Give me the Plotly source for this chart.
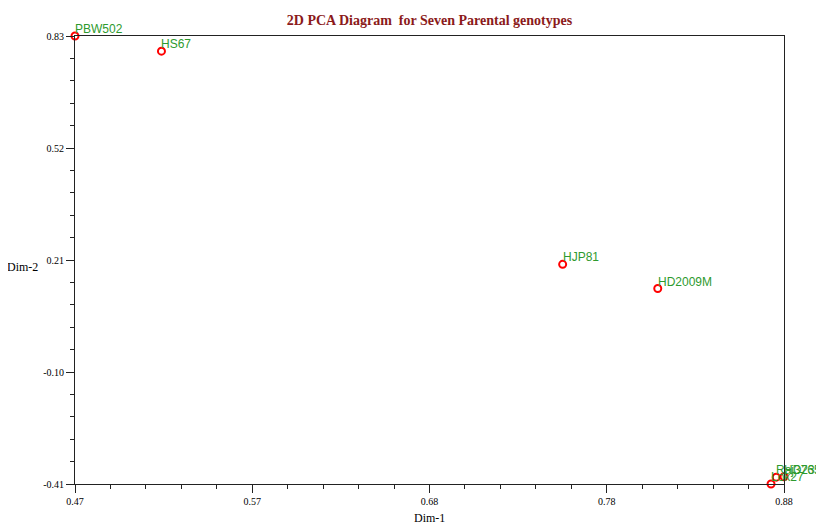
import plotly.graph_objects as go

genotypes = ["PBW502", "HS67", "HJP81", "HD2009M", "Lok27", "Raj3765", "HD2317"]
dim1 = [0.470, 0.520, 0.752, 0.807, 0.8725, 0.8755, 0.880]
dim2 = [0.830, 0.788, 0.198, 0.131, -0.410, -0.391, -0.390]

x_ticks = [0.47, 0.5725, 0.675, 0.7775, 0.88]
x_ticklabels = ["0.47", "0.57", "0.68", "0.78", "0.88"]
y_ticks = [0.83, 0.52, 0.21, -0.10, -0.41]
y_ticklabels = ["0.83", "0.52", "0.21", "-0.10", "-0.41"]

W, H = 816, 518
L, R, T, B = 67, 40, 28, 42

fig = go.Figure()
fig.add_trace(go.Scatter(
    x=dim1, y=dim2, mode="markers", cliponaxis=False,
    marker=dict(symbol="circle-open", size=7, color="#ff0000", line=dict(width=2, color="#ff0000")),
    hoverinfo="skip", showlegend=False,
))

annotations = []
for name, xv, yv in zip(genotypes, dim1, dim2):
    annotations.append(dict(
        text=name, x=xv, y=yv, xref="x", yref="y", xanchor="left", yanchor="bottom",
        showarrow=False, xshift=-1, yshift=-1, borderpad=0,
        font=dict(family="Liberation Sans, Arial", size=12, color="#2e9a2e"),
    ))

axis_common = dict(
    showgrid=False, zeroline=False, showline=True, linecolor="#222", linewidth=1,
    mirror=True, ticks="outside", ticklen=8, tickwidth=1, tickcolor="#222",
    tickfont=dict(family="Liberation Serif, Times New Roman", size=10, color="#000"),
)
fig.update_xaxes(range=[0.47, 0.88], tickvals=x_ticks, ticktext=x_ticklabels,
                 minor=dict(ticks="outside", ticklen=4, tick0=0.47, dtick=0.0205, tickcolor="#222"),
                 **axis_common)
fig.update_yaxes(range=[-0.41, 0.83], tickvals=y_ticks, ticktext=y_ticklabels,
                 minor=dict(ticks="outside", ticklen=4, tick0=-0.41, dtick=0.062, tickcolor="#222"),
                 **axis_common)

plot_w = W - L - R
plot_h = H - T - B
annotations += [
    dict(text="Dim-1", xref="paper", yref="paper", x=0.5, y=-(510 - (H - B)) / plot_h, yanchor="middle",
         showarrow=False, font=dict(family="Liberation Serif, Times New Roman", size=12, color="#000")),
    dict(text="Dim-2", xref="paper", yref="paper", x=(14 - L) / plot_w, y=((H - B) - 259) / plot_h,
         xanchor="center", yanchor="middle",
         showarrow=False, font=dict(family="Liberation Serif, Times New Roman", size=12, color="#000")),
]

fig.update_layout(
    width=W, height=H,
    margin=dict(l=L, r=R, t=T, b=B),
    paper_bgcolor="white", plot_bgcolor="white",
    title=dict(text="<b>2D PCA Diagram  for Seven Parental genotypes</b>",
               x=(L + plot_w / 2) / W, xanchor="center", y=1 - 12 / H, yanchor="middle",
               font=dict(family="Liberation Serif, Times New Roman", size=14, color="#8b1a1a")),
    annotations=annotations,
)

fig.write_html("out.html")
